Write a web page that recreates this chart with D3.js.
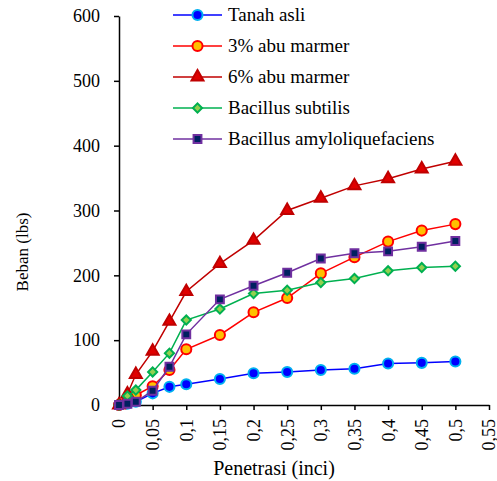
<!DOCTYPE html>
<html>
<head>
<meta charset="utf-8">
<script src="https://cdn.jsdelivr.net/npm/d3@7"></script>
<style>
  body { margin: 0; background: #fff; }
</style>
</head>
<body>
<script>
// penetration (inch) and load (lbs) per mix
var penetrasi = [0, 0.0125, 0.025, 0.05, 0.075, 0.1, 0.15, 0.2, 0.25, 0.3, 0.35, 0.4, 0.45, 0.5];
var tanahAsli = [0, 2, 5, 18, 28, 32, 40, 49, 51, 54, 56, 64, 65, 67];
var abu3 = [0, 8, 15, 29, 54, 86, 108, 143, 165, 203, 228, 252, 269, 279];
var abu6 = [0, 17, 47, 83, 129, 175, 218, 254, 300, 319, 338, 349, 364, 376];
var subtilis = [0, 14, 23, 51, 80, 131, 148, 172, 177, 189, 195, 207, 212, 214];
var amylo = [0, 2, 5, 22, 59, 109, 163, 184, 204, 226, 234, 237, 244, 253];

var seriesNames = ["Tanah asli", "3% abu marmer", "6% abu marmer", "Bacillus subtilis", "Bacillus amyloliquefaciens"];
var xTicks = [0, 0.05, 0.1, 0.15, 0.2, 0.25, 0.3, 0.35, 0.4, 0.45, 0.5, 0.55];
var yTicks = [0, 100, 200, 300, 400, 500, 600];

var FONT = "Liberation Serif, Tinos, Times New Roman, DejaVu Serif, serif";

var styles = [
  { line: "#0000ff", fill: "#0000ff", stroke: "#00b0f0", sym: d3.symbolCircle, size: 80, rot: 0 },
  { line: "#ff0000", fill: "#ffc000", stroke: "#ff0000", sym: d3.symbolCircle, size: 80, rot: 0 },
  { line: "#c00000", fill: "#e00000", stroke: "#c00000", sym: d3.symbolTriangle, size: 62, rot: 0 },
  { line: "#00b050", fill: "#92d050", stroke: "#00b050", sym: d3.symbolSquare, size: 42, rot: 45 },
  { line: "#7030a0", fill: "#002060", stroke: "#7030a0", sym: d3.symbolSquare, size: 62, rot: 0 }
];
var allSeries = [tanahAsli, abu3, abu6, subtilis, amylo];

var margin = { top: 16, right: 8, bottom: 76, left: 119 },
  width = 489 - margin.left,
  height = 405 - margin.top;

var svg = d3.select("body").append("svg")
  .attr("width", 497)
  .attr("height", 481)
  .attr("font-family", FONT);

var g = svg.append("g")
  .attr("transform", "translate(" + margin.left + "," + margin.top + ")");

var x = d3.scaleLinear().domain([0, 0.55]).range([0, width]);
var y = d3.scaleLinear().domain([0, 600]).range([height, 0]);

// axes
var xAxis = g.append("g")
  .attr("transform", "translate(0," + height + ")")
  .call(d3.axisBottom(x).tickValues(xTicks).tickSize(5).tickSizeOuter(0)
    .tickFormat(function (d) { return String(+d.toFixed(2)).replace(".", ","); }));
xAxis.selectAll("text")
  .attr("transform", "rotate(-90)")
  .attr("text-anchor", "end")
  .attr("x", -14)
  .attr("y", 0)
  .attr("dy", "0.33em");

var yAxis = g.append("g")
  .call(d3.axisLeft(y).tickValues(yTicks).tickSize(5).tickSizeOuter(0));
yAxis.selectAll("text").attr("x", -19);

xAxis.attr("font-family", FONT).attr("font-size", 18);
yAxis.attr("font-family", FONT).attr("font-size", 18);
g.selectAll(".tick text").attr("fill", "#000");
g.selectAll(".domain, .tick line").attr("stroke", "#000").attr("stroke-width", 1.5);

// lines and markers
var line = d3.line()
  .x(function (d, i) { return x(penetrasi[i]); })
  .y(function (d) { return y(d); });

allSeries.forEach(function (s, k) {
  var st = styles[k];
  g.append("path")
    .attr("d", line(s))
    .attr("fill", "none")
    .attr("stroke", st.line)
    .attr("stroke-width", 1.5);
  g.selectAll(".m" + k)
    .data(s)
    .enter().append("path")
    .attr("class", "m" + k)
    .attr("transform", function (d, i) {
      return "translate(" + x(penetrasi[i]) + "," + y(d) + ") rotate(" + st.rot + ")";
    })
    .attr("d", d3.symbol().type(st.sym).size(st.size))
    .attr("fill", st.fill)
    .attr("stroke", st.stroke)
    .attr("stroke-width", 2);
});

// legend
var legend = svg.append("g").attr("transform", "translate(173,15)");
seriesNames.forEach(function (name, k) {
  var st = styles[k];
  var row = legend.append("g").attr("transform", "translate(0," + (k * 31) + ")");
  row.append("line").attr("x1", 0).attr("x2", 49).attr("y1", 0).attr("y2", 0)
    .attr("stroke", st.line).attr("stroke-width", 1.5);
  row.append("path")
    .attr("transform", "translate(24.5,0) rotate(" + st.rot + ")")
    .attr("d", d3.symbol().type(st.sym).size(st.size))
    .attr("fill", st.fill).attr("stroke", st.stroke).attr("stroke-width", 2);
  row.append("text").attr("x", 55).attr("y", 0).attr("dy", "0.33em")
    .attr("font-size", 19).text(name);
});

// axis titles
svg.append("text")
  .attr("transform", "translate(28,252) rotate(-90)")
  .attr("text-anchor", "middle")
  .attr("font-size", 17)
  .text("Beban (lbs)");

svg.append("text")
  .attr("x", 274).attr("y", 475)
  .attr("text-anchor", "middle")
  .attr("font-size", 20)
  .text("Penetrasi (inci)");
</script>
</body>
</html>
